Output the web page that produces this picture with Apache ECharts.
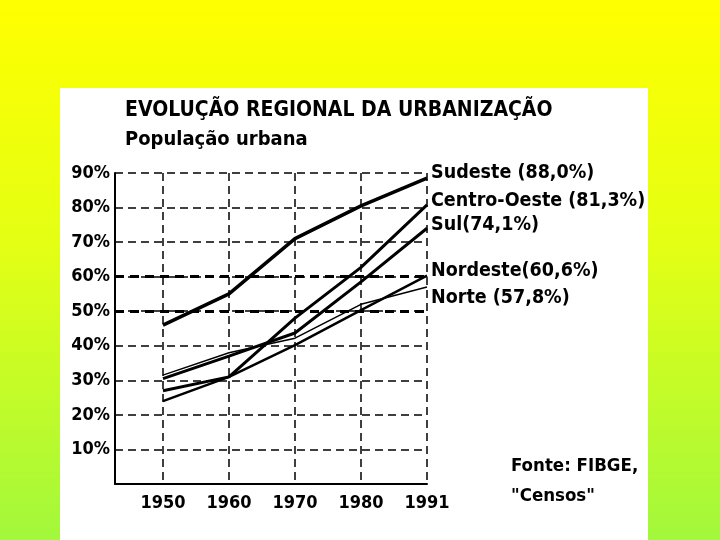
<!DOCTYPE html>
<html>
<head>
<meta charset="utf-8">
<script src="https://cdn.jsdelivr.net/npm/echarts@6/dist/echarts.min.js"></script>
<style>
  html, body { margin: 0; padding: 0; }
  body { width: 720px; height: 540px; overflow: hidden; position: relative;
         background: linear-gradient(to bottom, #ffff00 0%, #e4ff14 45%, #a2f83c 100%); }
  #panel { position: absolute; left: 60px; top: 88px; width: 588px; height: 452px; background: #fff; }
  #main { position: absolute; left: 0; top: 0; width: 720px; height: 540px; }
</style>
</head>
<body>
<div id="panel"></div>
<div id="main"></div>
<script>
// Evolução regional da urbanização - população urbana (%)
var years = ['1950', '1960', '1970', '1980', '1991'];
var sudeste     = [46, 55, 71, 80.5, 88.5];
var centroOeste = [27, 31, 48, 62.7, 80.8];
var sul         = [30.5, 37, 43.7, 58.5, 74];
var nordeste    = [24, 31, 40.2, 50.3, 60.3];
var norte       = [31.5, 38, 42.2, 52, 57];
var endTexts = ['Sudeste (88,0%)', 'Centro-Oeste (81,3%)', 'Sul(74,1%)', 'Nordeste(60,6%)', 'Norte (57,8%)'];
var boldGrid = [50, 60]; // linhas tracejadas mais grossas

var FONT = "'Liberation Sans Narrow', 'DejaVu Sans Condensed', 'Liberation Sans', sans-serif";

var myChart = echarts.init(document.getElementById('main'), null, {renderer: 'canvas'});

//pares [indice, valor]
function toPoints(arr) {
  var out = [];
  for (var i = 0; i < arr.length; i++) {
    out.push([i, arr[i]]);
  }
  return out;
}

function makeSeries(name, data, width, labelText, dy) {
  return {
    name: name,
    type: 'line',
    data: toPoints(data),
    showSymbol: false,
    symbol: 'none',
    lineStyle: { color: '#000', width: width },
    endLabel: {
      show: true,
      formatter: labelText,
      color: '#000',
      fontFamily: FONT,
      fontWeight: 'bold',
      fontSize: 19.5,
      distance: 4,
      offset: [0, dy]
    },
    emphasis: { disabled: true },
    animation: false
  };
}

var seriesArr = [
  makeSeries('Sudeste', sudeste, 3.5, endTexts[0], -5),
  makeSeries('Centro-Oeste', centroOeste, 3, endTexts[1], -4),
  makeSeries('Sul', sul, 3, endTexts[2], -3),
  makeSeries('Nordeste', nordeste, 2.5, endTexts[3], -5),
  makeSeries('Norte', norte, 1.5, endTexts[4], 11)
];

//linhas 50% e 60% mais grossas
seriesArr[0].markLine = {
  silent: true,
  symbol: 'none',
  label: { show: false },
  lineStyle: { color: '#000', width: 3, type: [9, 6] },
  data: boldGrid.map(function (v) { return { yAxis: v }; })
};

var option = {
  backgroundColor: 'transparent',
  animation: false,
  title: {
    text: 'EVOLUÇÃO REGIONAL DA URBANIZAÇÃO',
    subtext: 'População urbana',
    left: 120,
    top: 95,
    itemGap: 9,
    textStyle: { fontFamily: FONT, fontSize: 21, fontWeight: 'bold', color: '#000' },
    subtextStyle: { fontFamily: FONT, fontSize: 20, fontWeight: 'bold', color: '#000' }
  },
  grid: { left: 115, right: 293, top: 173, bottom: 56, containLabel: false },
  xAxis: {
    type: 'value',
    min: -0.727,
    max: 4,
    axisLine: { show: true, onZero: false, lineStyle: { color: '#000', width: 2 } },
    axisTick: { show: false, customValues: [0, 1, 2, 3, 4] },
    axisLabel: {
      customValues: [0, 1, 2, 3, 4],
      formatter: function (v) { return years[Math.round(v)]; },
      color: '#000',
      fontFamily: FONT,
      fontWeight: 'bold',
      fontSize: 18,
      margin: 10
    },
    splitLine: { show: true, lineStyle: { color: '#000', width: 1.5, type: [8, 5] } }
  },
  yAxis: {
    type: 'value',
    min: 0,
    max: 90,
    interval: 10,
    axisLine: { show: true, onZero: false, lineStyle: { color: '#000', width: 2 } },
    axisTick: { show: false },
    axisLabel: {
      formatter: function (v) { return v === 0 ? '' : v + '%'; },
      color: '#000',
      fontFamily: FONT,
      fontWeight: 'bold',
      fontSize: 18,
      margin: 5
    },
    splitLine: { show: true, lineStyle: { color: '#000', width: 1.5, type: [8, 5] } }
  },
  graphic: [{
    type: 'text',
    left: 511,
    top: 451,
    style: {
      text: 'Fonte: FIBGE,\n"Censos"',
      fill: '#000',
      font: 'bold 18.5px ' + FONT,
      lineHeight: 30
    }
  }],
  series: seriesArr
};

myChart.setOption(option);
</script>
</body>
</html>
